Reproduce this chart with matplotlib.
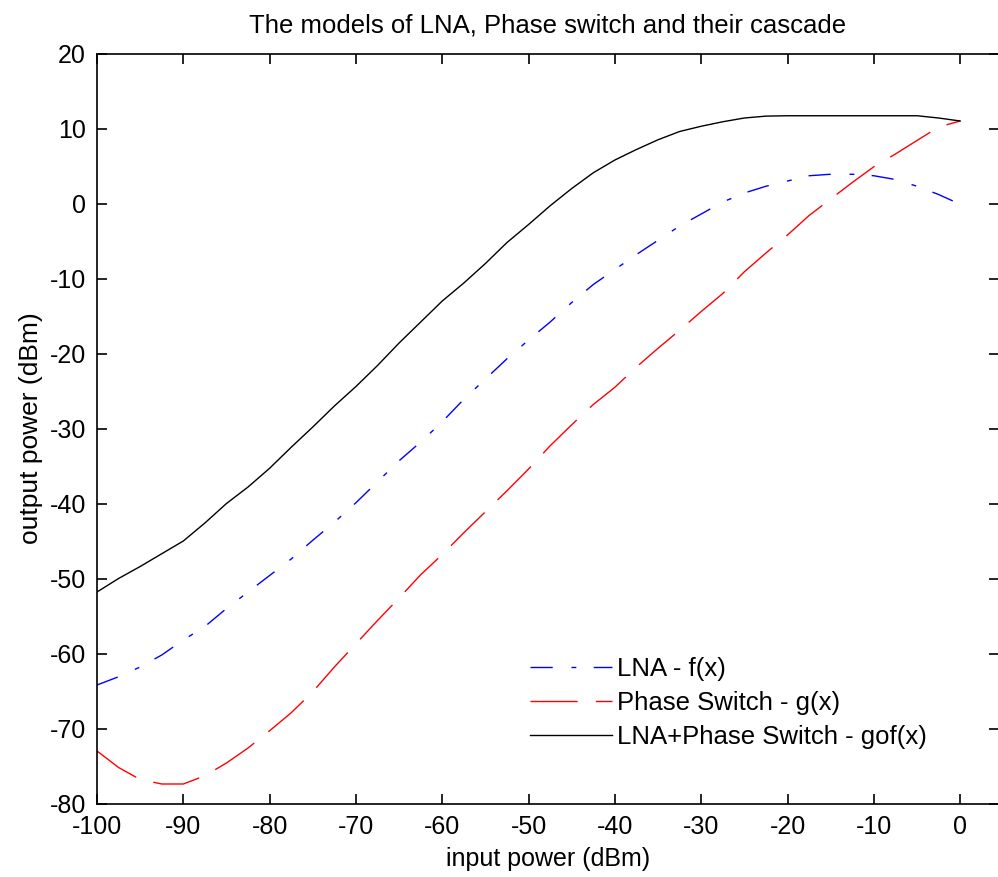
import matplotlib
matplotlib.use('Agg')
import matplotlib.pyplot as plt

# input power grid (dBm)
x_in = [-100, -97.5, -95, -92.5, -90, -87.5, -85, -82.5, -80, -77.5,
        -75, -72.5, -70, -67.5, -65, -62.5, -60, -57.5, -55, -52.5,
        -50, -47.5, -45, -42.5, -40, -37.5, -35, -32.5, -30, -27.5,
        -25, -22.5, -20, -17.5, -15, -12.5, -10, -7.5, -5, -2.5, 0]

# LNA - f(x)
lna = [-64.2, -63.1, -61.8, -60.2, -58.2, -56.4, -54.0, -51.8, -49.6, -47.4,
       -44.9, -42.5, -39.9, -37.1, -34.3, -31.8, -29.1, -26.1, -23.4, -20.7,
       -18.2, -15.8, -13.2, -10.8, -8.8, -6.8, -4.9, -3.0, -1.4, 0.2,
       1.4, 2.3, 3.0, 3.7, 3.9, 3.9, 3.7, 3.2, 2.3, 1.2, -0.1]

# Phase switch - g(x)
phase_sw = [-73.0, -75.2, -76.8, -77.4, -77.4, -76.3, -74.6, -72.6, -70.3, -67.9,
            -65.1, -61.8, -58.7, -55.6, -52.6, -49.5, -46.8, -43.9, -41.1, -38.3,
            -35.4, -32.3, -29.5, -26.8, -24.5, -21.8, -19.3, -16.9, -14.4, -12.0,
            -9.1, -6.6, -4.2, -1.6, 0.6, 2.8, 4.9, 6.6, 8.4, 10.2, 11.0]

# cascade - gof(x)
cascade = [-51.8, -50.0, -48.4, -46.7, -45.0, -42.6, -40.0, -37.8, -35.3, -32.5,
           -29.8, -27.0, -24.4, -21.6, -18.6, -15.8, -13.0, -10.6, -8.0, -5.2,
           -2.8, -0.3, 2.0, 4.1, 5.8, 7.2, 8.5, 9.6, 10.3, 10.9,
           11.4, 11.65, 11.7, 11.7, 11.7, 11.7, 11.7, 11.7, 11.7, 11.4, 11.0]

plt.rcParams['font.family'] = ['Liberation Sans', 'DejaVu Sans']
plt.rcParams['axes.unicode_minus'] = False

fig = plt.figure(figsize=(9.98, 8.77), dpi=100)
ax = fig.add_axes([97 / 998, 73.5 / 877, 902 / 998, 750 / 877])

ax.plot(x_in, lna, color='blue', lw=1.0, dashes=(16, 13.5, 3.5, 12.5),
        label='LNA - f(x)')
ax.plot(x_in, phase_sw, color='red', lw=1.0, dashes=(34, 13),
        label='Phase Switch - g(x)')
ax.plot(x_in, cascade, color='black', lw=1.0, label='LNA+Phase Switch - gof(x)')

ax.set_xlim(-100, 4.5)
ax.set_ylim(-80, 20)
ax.set_xticks(range(-100, 1, 10))
ax.set_yticks(range(-80, 21, 10))
ax.tick_params(direction='in', length=7, width=1.2, top=True, right=True,
               labelsize=18, pad=8)
for s in ax.spines.values():
    s.set_linewidth(1.2)

ax.set_title('The models of LNA, Phase switch and their cascade', fontsize=18.5, pad=15)
ax.set_xlabel('input power (dBm)', fontsize=18, labelpad=6)
ax.set_ylabel('output power (dBm)', fontsize=19, labelpad=5)

ax.legend(loc='center left', bbox_to_anchor=(530 / 998, 174 / 877),
          bbox_transform=fig.transFigure, frameon=False, fontsize=18.5,
          handlelength=3.2, handletextpad=0.2, labelspacing=0.38,
          borderpad=0, borderaxespad=0)

fig.savefig('out.png', dpi=100)
